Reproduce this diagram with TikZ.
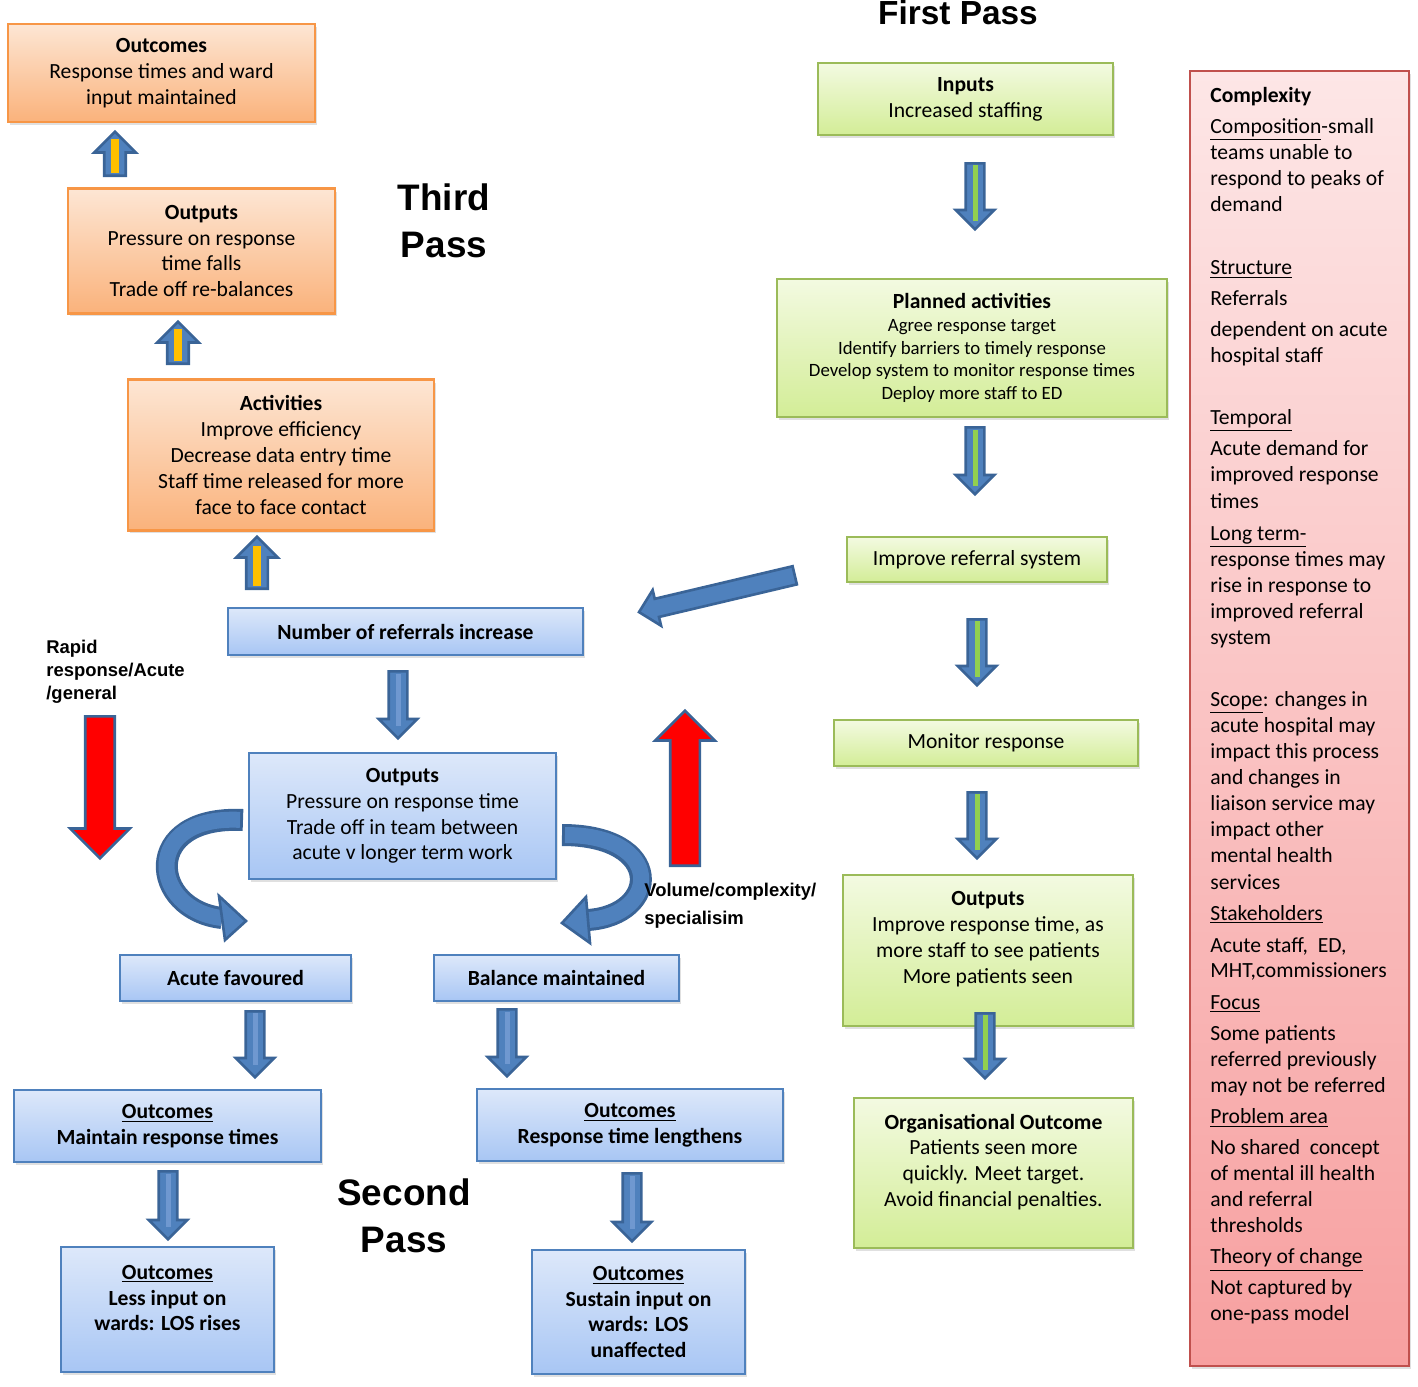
\documentclass[tikz,border=0pt]{standalone}
\usepackage{fontspec}
\setmainfont{Carlito}
\newfontfamily\headfont{Liberation Sans}
\usetikzlibrary{shapes.arrows,shadows,calc}
\definecolor{orline}{HTML}{F79646}
\definecolor{ortop}{HTML}{FDE6D4}
\definecolor{orbot}{HTML}{FAB27B}
\definecolor{grline}{HTML}{9BBB59}
\definecolor{grtop}{HTML}{F3FAE1}
\definecolor{grbot}{HTML}{D3ED97}
\definecolor{blline}{HTML}{4F81BD}
\definecolor{bltop}{HTML}{DDE8FA}
\definecolor{blbot}{HTML}{A8C6F4}
\definecolor{rdline}{HTML}{C0504D}
\definecolor{rdtop}{HTML}{FDE6E6}
\definecolor{rdbot}{HTML}{F7A0A0}
\definecolor{arrfill}{HTML}{4F81BD}
\definecolor{arrline}{HTML}{3A6497}
\definecolor{yelstripe}{HTML}{FFC000}
\definecolor{grstripe}{HTML}{92D050}
\definecolor{blstripe}{HTML}{6F98D0}
\tikzset{
    box/.style = {draw, rectangle, line width=1.5pt, align=center, inner sep=0pt,
        font=\fontsize{12.3}{14.7}\selectfont,
        drop shadow={shadow xshift=0.04cm, shadow yshift=-0.06cm, opacity=0.2, fill=black!60}},
    orbox/.style = {box, draw=orline, top color=ortop, bottom color=orbot},
    grbox/.style = {box, draw=grline, top color=grtop, bottom color=grbot},
    blbox/.style = {box, draw=blline, top color=bltop, bottom color=blbot},
    blbold/.style = {blbox, font=\fontsize{12.3}{14.7}\selectfont\bfseries},
    redbox/.style = {box, draw=rdline, top color=rdtop, bottom color=rdbot},
    txt/.style = {align=center, inner sep=0pt, font=\fontsize{12.3}{14.7}\selectfont},
    passlabel/.style = {align=center, inner sep=0pt, font=\headfont\bfseries\fontsize{21}{26.6}\selectfont},
    sidelabel/.style = {align=left, inner sep=0pt, anchor=west, font=\headfont\bfseries\fontsize{10.5}{13}\selectfont},
    blockarr/.style = {single arrow, draw=arrline, fill=arrfill, line width=1.5pt, inner xsep=0pt,
        anchor=tail, single arrow tip angle=90},
    downarr/.style = {blockarr, rotate=-90, inner ysep=0.16cm, single arrow head extend=0.2cm},
    uparr/.style = {blockarr, rotate=90, inner ysep=0.19cm, single arrow head extend=0.2cm},
    redarr/.style = {blockarr, fill=red, inner ysep=0.27cm, single arrow head extend=0.3cm},
    stripe/.style = {line width=0.1cm, draw=#1},
    curvback/.style = {line width=0.44cm, draw=arrline},
    curvfront/.style = {line width=0.32cm, draw=arrfill, shorten <=0.06cm},
    curvhead/.style = {fill=arrfill, draw=arrline, line width=1.5pt}
}

\begin{document}
\begin{tikzpicture}[x=0.02cm, y=-0.02cm]
        \useasboundingbox (0,0) rectangle (1418,1387);
        \node [orbox, minimum width=6.14cm, minimum height=1.96cm] (out3) at (161.5,73) {\textbf{Outcomes}\\Response times and ward\\input maintained};
        \node [orbox, minimum width=5.34cm, minimum height=2.5cm] (outp3) at (201.5,251) {\textbf{Outputs}\\Pressure on response\\time falls\\Trade off re-balances};
        \node [orbox, minimum width=6.12cm, minimum height=3.02cm] (act3) at (281,455) {\textbf{Activities}\\Improve efficiency\\Decrease data entry time\\Staff time released for more\\face to face contact};
        \node [passlabel] (third) at (444,221) {Third\\Pass};
        \node [uparr, minimum height=0.88cm] (ua1) at (115,177) {};
        \node [uparr, minimum height=0.84cm] (ua2) at (178,365) {};
        \node [uparr, minimum height=1.04cm] (ua3) at (257,590) {};
        \draw [stripe=yelstripe, line width=0.16cm] ($(ua1.tail)!.08!(ua1.tip)$) -- ($(ua1.tail)!.8!(ua1.tip)$);
        \draw [stripe=yelstripe, line width=0.16cm] ($(ua2.tail)!.08!(ua2.tip)$) -- ($(ua2.tail)!.8!(ua2.tip)$);
        \draw [stripe=yelstripe, line width=0.16cm] ($(ua3.tail)!.08!(ua3.tip)$) -- ($(ua3.tail)!.8!(ua3.tip)$);

        \node [passlabel, font=\headfont\bfseries\fontsize{19}{24}\selectfont, anchor=base] (first) at (958,24) {First Pass};
        \node [grbox, minimum width=5.9cm, minimum height=1.44cm] (inputs) at (965.5,99) {\textbf{Inputs}\\Increased staffing};
        \node [grbox, minimum width=7.8cm, minimum height=2.76cm, font=\fontsize{10.7}{13}\selectfont] (plan) at (972,348) {{\fontsize{12.3}{14.7}\selectfont\textbf{Planned activities}}\\Agree response target\\Identify barriers to timely response\\Develop system to monitor response times\\Deploy more staff to ED};
        \node [grbox, minimum width=5.2cm, minimum height=0.9cm] (refsys) at (977,559.5) {Improve referral system};
        \node [grbox, minimum width=6.08cm, minimum height=0.92cm] (monitor) at (986,743) {Monitor response};
        \node [grbox, minimum width=5.8cm, minimum height=3.02cm] (outp1) at (988,950.5) {};
        \node [txt] (outp1t) at (988,939) {\textbf{Outputs}\\Improve response time, as\\more staff to see patients\\More patients seen};
        \node [grbox, minimum width=5.58cm, minimum height=3cm] (orgout) at (993.5,1173) {};
        \node [txt] (orgoutt) at (993.5,1162) {\textbf{Organisational Outcome}\\Patients seen more\\quickly. Meet target.\\Avoid financial penalties.};
        \node [downarr, minimum height=1.32cm] (ga1) at (975,162) {};
        \node [downarr, minimum height=1.34cm] (ga2) at (975,426) {};
        \node [downarr, minimum height=1.32cm] (ga3) at (977,618) {};
        \node [downarr, minimum height=1.32cm] (ga4) at (977,791) {};
        \node [downarr, minimum height=1.3cm] (ga5) at (985,1012) {};
        \draw [stripe=grstripe] ($(ga1.tail)!.05!(ga1.tip)$) -- ($(ga1.tail)!.85!(ga1.tip)$);
        \draw [stripe=grstripe] ($(ga2.tail)!.05!(ga2.tip)$) -- ($(ga2.tail)!.85!(ga2.tip)$);
        \draw [stripe=grstripe] ($(ga3.tail)!.05!(ga3.tip)$) -- ($(ga3.tail)!.85!(ga3.tip)$);
        \draw [stripe=grstripe] ($(ga4.tail)!.05!(ga4.tip)$) -- ($(ga4.tail)!.85!(ga4.tip)$);
        \draw [stripe=grstripe] ($(ga5.tail)!.05!(ga5.tip)$) -- ($(ga5.tail)!.85!(ga5.tip)$);

        \node [blbold, minimum width=7.1cm, minimum height=0.94cm] (numref) at (405.5,631.5) {Number of referrals increase};
        \node [blbox, minimum width=6.14cm, minimum height=2.52cm] (outp2) at (402.5,816) {\textbf{Outputs}\\Pressure on response time\\Trade off in team between\\acute v longer term work};
        \node [blbold, minimum width=4.62cm, minimum height=0.92cm] (acute) at (235.5,978) {Acute favoured};
        \node [blbold, minimum width=4.9cm, minimum height=0.92cm] (balance) at (556.5,978) {Balance maintained};
        \node [blbold, minimum width=6.14cm, minimum height=1.44cm] (out2a) at (167.5,1126) {\underline{Outcomes}\\Maintain response times};
        \node [blbold, minimum width=6.12cm, minimum height=1.44cm] (out2b) at (630,1125) {\underline{Outcomes}\\Response time lengthens};
        \node [blbold, minimum width=4.26cm, minimum height=2.5cm] (out2c) at (167.5,1309.5) {};
        \node [txt, font=\fontsize{12.3}{14.7}\selectfont\bfseries] (out2ct) at (167.5,1298) {\underline{Outcomes}\\Less input on\\wards: LOS rises};
        \node [blbold, minimum width=4.26cm, minimum height=2.48cm] (out2d) at (638.5,1312) {\underline{Outcomes}\\Sustain input on\\wards: LOS\\unaffected};
        \node [passlabel] (second) at (404,1216) {Second\\Pass};
        \node [downarr, minimum height=1.34cm] (ba1) at (398,670) {};
        \node [downarr, minimum height=1.32cm] (ba2) at (255,1010) {};
        \node [downarr, minimum height=1.34cm] (ba3) at (507,1008) {};
        \node [downarr, minimum height=1.36cm] (ba4) at (168,1170) {};
        \node [downarr, minimum height=1.36cm] (ba5) at (632,1172) {};
        \draw [stripe=blstripe] ($(ba1.tail)!.05!(ba1.tip)$) -- ($(ba1.tail)!.8!(ba1.tip)$);
        \draw [stripe=blstripe] ($(ba2.tail)!.05!(ba2.tip)$) -- ($(ba2.tail)!.8!(ba2.tip)$);
        \draw [stripe=blstripe] ($(ba3.tail)!.05!(ba3.tip)$) -- ($(ba3.tail)!.8!(ba3.tip)$);
        \draw [stripe=blstripe] ($(ba4.tail)!.05!(ba4.tip)$) -- ($(ba4.tail)!.8!(ba4.tip)$);
        \draw [stripe=blstripe] ($(ba5.tail)!.05!(ba5.tip)$) -- ($(ba5.tail)!.8!(ba5.tip)$);
        \node [blockarr, rotate=193.3, minimum height=3.2cm, inner ysep=0.16cm, single arrow head extend=0.18cm] (sa) at (796,575) {};

        \coordinate (lc0) at (243,820);
        \coordinate (lc1) at (222,918);
        \draw [curvback] (lc0) .. controls (140,815) and (150,910) .. (lc1);
        \draw [curvfront] (lc0) .. controls (140,815) and (150,910) .. (lc1);
        \draw [curvhead] (219,896) -- (246,921) -- (225,940) -- cycle;
        \coordinate (rc0) at (562,835);
        \coordinate (rc1) at (588,920);
        \draw [curvback] (rc0) .. controls (665,835) and (660,915) .. (rc1);
        \draw [curvfront] (rc0) .. controls (665,835) and (660,915) .. (rc1);
        \draw [curvhead] (586,897) -- (562,923) -- (590,943) -- cycle;

        \node [sidelabel] (rapid) at (46,672) {Rapid\\response/Acute\\/general};
        \node [redarr, rotate=-90, minimum height=2.84cm] (rd) at (100,715) {};
        \node [redarr, rotate=90, minimum height=3.1cm] (ru) at (685,867) {};
        \node [sidelabel, font=\headfont\bfseries\fontsize{10.5}{16}\selectfont] (volume) at (644,906) {Volume/complexity/\\specialisim};

        \node [redbox, minimum width=4.38cm, minimum height=25.9cm] (cplx) at (1299.5,718.5) {};
        \node [txt, align=left, anchor=north west, font=\fontsize{12.3}{14.85}\selectfont] (cplxt) at (1210,87) {\textbf{Complexity}\\[2.8pt]
            \underline{Composition}-small\\
            teams unable to\\
            respond to peaks of\\
            demand\\[21pt]
            \underline{Structure}\\[2.8pt]
            Referrals\\[2.8pt]
            dependent on acute\\
            hospital staff\\[20.4pt]
            \underline{Temporal}\\[2.8pt]
            Acute demand for\\
            improved response\\
            times\\[3.4pt]
            \underline{Long term-}\\
            response times may\\
            rise in response to\\
            improved referral\\
            system\\[20.4pt]
            \underline{Scope}: changes in\\
            acute hospital may\\
            impact this process\\
            and changes in\\
            liaison service may\\
            impact other\\
            mental health\\
            services\\[2.8pt]
            \underline{Stakeholders}\\[3.4pt]
            Acute staff,~~ED,\\[-0.6pt]
            MHT,commissioners\\[3.4pt]
            \underline{Focus}\\[2.8pt]
            Some patients\\
            referred previously\\
            may not be referred\\[2.8pt]
            \underline{Problem area}\\[2.8pt]
            No shared~~concept\\
            of mental ill health\\
            and referral\\
            thresholds\\[2.8pt]
            \underline{Theory of change}\\[2.8pt]
            Not captured by\\
            one-pass model};
\end{tikzpicture}
\end{document}
